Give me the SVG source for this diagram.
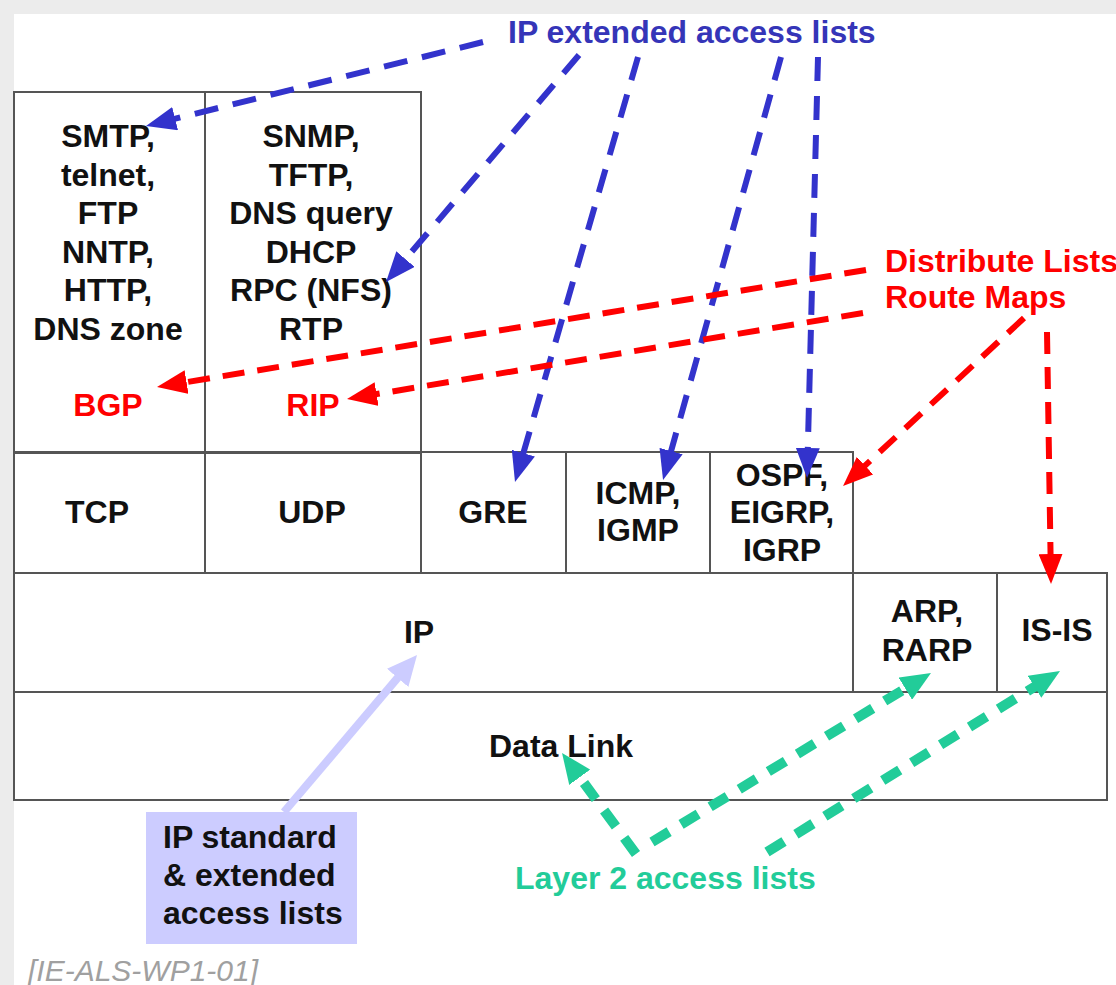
<svg xmlns="http://www.w3.org/2000/svg" width="1116" height="985" viewBox="0 0 1116 985">
  <defs>
    <style>
      .cell { fill: none; stroke: #555; stroke-width: 2; }
      .t { font-family: "Liberation Sans", Arial, sans-serif; font-weight: bold; font-size: 32px; fill: #111; text-anchor: middle; }
      .lbl { font-family: "Liberation Sans", Arial, sans-serif; font-weight: bold; font-size: 32px; }
      .red { fill: #ff0000; }
      .blue { fill: #3535b8; }
      .green { fill: #22cc99; }
      .blueLine { fill: none; stroke: #3333cc; stroke-width: 6; stroke-dasharray: 24 15; }
      .redLine { fill: none; stroke: #ff0000; stroke-width: 6; stroke-dasharray: 22 13; }
      .greenLine { fill: none; stroke: #22cc99; stroke-width: 10; stroke-dasharray: 20 14; }
      .purpleLine { fill: none; stroke: #ccccff; stroke-width: 8; }
    </style>
    <marker id="headBlue" viewBox="0 0 30 24" refX="16" refY="12" markerWidth="30" markerHeight="24" markerUnits="userSpaceOnUse" orient="auto">
      <path d="M0,0 L30,12 L0,24 z" fill="#3333cc"/>
    </marker>
    <marker id="headRed" viewBox="0 0 30 24" refX="16" refY="12" markerWidth="30" markerHeight="24" markerUnits="userSpaceOnUse" orient="auto">
      <path d="M0,0 L30,12 L0,24 z" fill="#ff0000"/>
    </marker>
    <marker id="headGreen" viewBox="0 0 30 26" refX="16" refY="13" markerWidth="30" markerHeight="26" markerUnits="userSpaceOnUse" orient="auto">
      <path d="M0,0 L30,13 L0,26 z" fill="#22cc99"/>
    </marker>
    <marker id="headPurple" viewBox="0 0 30 28" refX="16" refY="14" markerWidth="30" markerHeight="28" markerUnits="userSpaceOnUse" orient="auto">
      <path d="M0,0 L30,14 L0,28 z" fill="#ccccff"/>
    </marker>
  </defs>

  <!-- page -->
  <rect x="0" y="0" width="1116" height="985" fill="#ececec"/>
  <rect x="14" y="14" width="1102" height="971" fill="#ffffff"/>

  <!-- application layer boxes -->
  <g id="app-tcp">
    <rect class="cell" x="14" y="92" width="191" height="360"/>
    <text class="t" x="108" y="147">SMTP,</text>
    <text class="t" x="108" y="185.5">telnet,</text>
    <text class="t" x="108" y="224">FTP</text>
    <text class="t" x="108" y="262.5">NNTP,</text>
    <text class="t" x="108" y="301">HTTP,</text>
    <text class="t" x="108" y="339.5">DNS zone</text>
    <text class="lbl red" x="108" y="416" text-anchor="middle">BGP</text>
  </g>
  <g id="app-udp">
    <rect class="cell" x="205" y="92" width="216" height="360"/>
    <text class="t" x="311" y="147">SNMP,</text>
    <text class="t" x="311" y="185.5">TFTP,</text>
    <text class="t" x="311" y="224">DNS query</text>
    <text class="t" x="311" y="262.5">DHCP</text>
    <text class="t" x="311" y="301">RPC (NFS)</text>
    <text class="t" x="311" y="339.5">RTP</text>
    <text class="lbl red" x="313" y="416" text-anchor="middle">RIP</text>
  </g>

  <!-- transport row -->
  <g id="tcp">
    <rect class="cell" x="14" y="453" width="191" height="120"/>
    <text class="t" x="97" y="523">TCP</text>
  </g>
  <g id="udp">
    <rect class="cell" x="205" y="453" width="216" height="120"/>
    <text class="t" x="312" y="523">UDP</text>
  </g>
  <g id="gre">
    <rect class="cell" x="421" y="452" width="145" height="121"/>
    <text class="t" x="493" y="523">GRE</text>
  </g>
  <g id="icmp">
    <rect class="cell" x="566" y="452" width="144" height="121"/>
    <text class="t" x="638" y="504">ICMP,</text>
    <text class="t" x="638" y="541">IGMP</text>
  </g>
  <g id="ospf">
    <rect class="cell" x="710" y="452" width="143" height="121"/>
    <text class="t" x="782" y="486">OSPF,</text>
    <text class="t" x="782" y="523">EIGRP,</text>
    <text class="t" x="782" y="561">IGRP</text>
  </g>

  <!-- network row -->
  <g id="ip">
    <rect class="cell" x="14" y="573" width="839" height="119"/>
    <text class="t" x="419" y="643">IP</text>
  </g>
  <g id="arp">
    <rect class="cell" x="853" y="573" width="144" height="119"/>
    <text class="t" x="927" y="622">ARP,</text>
    <text class="t" x="927" y="661">RARP</text>
  </g>
  <g id="isis">
    <rect class="cell" x="997" y="573" width="110" height="119"/>
    <text class="t" x="1057" y="641">IS-IS</text>
  </g>

  <!-- link row -->
  <g id="datalink">
    <rect class="cell" x="14" y="692" width="1093" height="108"/>
    <text class="t" x="561" y="757">Data Link</text>
  </g>

  <!-- labels -->
  <g id="label-ip-extended">
    <text class="lbl blue" x="508" y="43">IP extended access lists</text>
  </g>
  <g id="label-distribute">
    <text class="lbl red" x="885" y="272">Distribute Lists</text>
    <text class="lbl red" x="885" y="308">Route Maps</text>
  </g>
  <g id="label-layer2">
    <text class="lbl green" x="515" y="889">Layer 2 access lists</text>
  </g>
  <g id="label-ip-standard">
    <rect x="146" y="812" width="211" height="132" fill="#ccccff"/>
    <text class="lbl" x="163" y="848" fill="#111">IP standard</text>
    <text class="lbl" x="163" y="886" fill="#111">&amp; extended</text>
    <text class="lbl" x="163" y="924" fill="#111">access lists</text>
  </g>
  <g id="figure-id">
    <text x="28" y="981" font-family="'Liberation Sans', Arial, sans-serif" font-style="italic" font-size="30" fill="#a0a0a0">[IE-ALS-WP1-01]</text>
  </g>

  <!-- connectors -->
  <g id="connectors">
    <!-- IP extended access lists -->
    <line class="blueLine" x1="483" y1="42" x2="159.6" y2="122.6" marker-end="url(#headBlue)"/>
    <line class="blueLine" x1="579" y1="55" x2="395.1" y2="271.3" marker-end="url(#headBlue)"/>
    <line class="blueLine" x1="638" y1="57" x2="518.9" y2="468.5" marker-end="url(#headBlue)"/>
    <line class="blueLine" x1="781" y1="57" x2="666.8" y2="466.5" marker-end="url(#headBlue)"/>
    <line class="blueLine" x1="818" y1="57" x2="807.4" y2="464" marker-end="url(#headBlue)"/>
    <!-- distribute lists / route maps -->
    <line class="redLine" x1="866" y1="270" x2="170.8" y2="384.7" marker-end="url(#headRed)"/>
    <line class="redLine" x1="863" y1="313" x2="360.8" y2="396.7" marker-end="url(#headRed)"/>
    <line class="redLine" x1="1024" y1="318" x2="853.3" y2="476.5" marker-end="url(#headRed)"/>
    <line class="redLine" x1="1047" y1="332" x2="1050.8" y2="570" marker-end="url(#headRed)"/>
    <!-- layer 2 access lists -->
    <line class="greenLine" x1="636" y1="854" x2="570.3" y2="764.3" marker-end="url(#headGreen)"/>
    <line class="greenLine" x1="652" y1="842" x2="919" y2="680.3" marker-end="url(#headGreen)"/>
    <line class="greenLine" x1="767" y1="852" x2="1048.1" y2="678.4" marker-end="url(#headGreen)"/>
    <!-- IP standard & extended access lists -->
    <line class="purpleLine" x1="284" y1="812" x2="408" y2="665.7" marker-end="url(#headPurple)"/>
  </g>
</svg>
